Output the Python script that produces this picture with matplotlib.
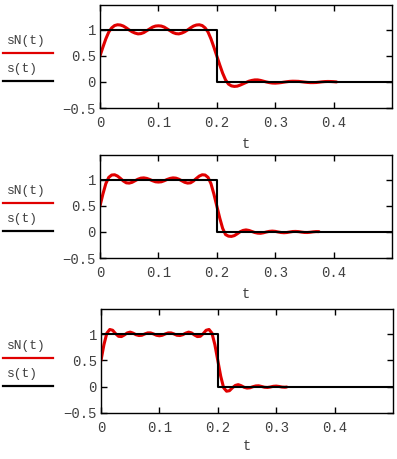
import numpy as np
import matplotlib
matplotlib.use("Agg")
import matplotlib.pyplot as plt
from matplotlib.lines import Line2D

# ---------------- data ----------------
# sampling grids (t) for the red partial-sum curves
t1 = [round(0.005 * i, 3) for i in range(82)]          # 0 .. 0.405
t2 = [round(0.005 * i, 3) for i in range(76)]          # 0 .. 0.375
t3 = [round(0.005 * i, 3) for i in range(64)] + [0.318]  # 0 .. 0.318

sN1 = [0.50, 0.67, 0.83, 0.96, 1.04, 1.085, 1.10, 1.095, 1.075, 1.04,
       1.00, 0.965, 0.94, 0.925, 0.93, 0.95, 0.985, 1.02, 1.055, 1.075,
       1.08, 1.075, 1.055, 1.02, 0.985, 0.95, 0.93, 0.925, 0.94, 0.965,
       1.00, 1.04, 1.075, 1.095, 1.10, 1.085, 1.04, 0.96, 0.83, 0.67,
       0.50, 0.33, 0.17, 0.04, -0.04, -0.075, -0.085, -0.08, -0.06, -0.035,
       -0.01, 0.015, 0.03, 0.04, 0.04, 0.03, 0.015, 0.0, -0.012, -0.02,
       -0.022, -0.018, -0.012, -0.003, 0.005, 0.012, 0.015, 0.014, 0.012, 0.005,
       -0.002, -0.008, -0.012, -0.012, -0.01, -0.004, 0.003, 0.008, 0.01, 0.009,
       0.006, 0.001]

sN2 = [0.50, 0.73, 0.93, 1.05, 1.095, 1.10, 1.075, 1.03, 0.98, 0.945,
       0.94, 0.955, 0.985, 1.015, 1.035, 1.04, 1.03, 1.01, 0.985, 0.965,
       0.96, 0.965, 0.985, 1.01, 1.03, 1.04, 1.035, 1.015, 0.985, 0.955,
       0.94, 0.945, 0.98, 1.03, 1.075, 1.10, 1.095, 1.05, 0.93, 0.73,
       0.50, 0.27, 0.07, -0.05, -0.08, -0.085, -0.07, -0.035, 0.005, 0.03,
       0.04, 0.03, 0.01, -0.01, -0.022, -0.025, -0.015, 0.0, 0.012, 0.017,
       0.012, 0.0, -0.01, -0.014, -0.01, 0.0, 0.009, 0.011, 0.007, -0.002,
       -0.009, -0.01, -0.005, 0.003, 0.008, 0.007]

sN3 = [0.50, 0.80, 1.02, 1.09, 1.075, 1.01, 0.96, 0.955, 0.985, 1.025,
       1.04, 1.02, 0.99, 0.975, 0.98, 1.005, 1.025, 1.025, 1.005, 0.98,
       0.97, 0.98, 1.005, 1.025, 1.025, 1.005, 0.98, 0.975, 0.99, 1.02,
       1.04, 1.025, 0.985, 0.955, 0.96, 1.01, 1.075, 1.09, 1.02, 0.80,
       0.50, 0.20, -0.02, -0.085, -0.075, -0.02, 0.025, 0.04, 0.02, -0.01,
       -0.025, -0.02, 0.0, 0.015, 0.018, 0.005, -0.01, -0.014, -0.005, 0.008,
       0.012, 0.005, -0.006, -0.009, -0.005]

# ideal rectangular pulse s(t)
t_s = [0.0, 0.2, 0.2, 0.5]
s_vals = [1.0, 1.0, 0.0, 0.0]

xticks = [0, 0.1, 0.2, 0.3, 0.4]
xtick_labels = ["0", "0.1", "0.2", "0.3", "0.4"]
yticks = [-0.5, 0, 0.5, 1]
ytick_labels = ["\u22120.5", "0", "0.5", "1"]

curves = [(t1, sN1), (t2, sN2), (t3, sN3)]

# ---------------- layout ----------------
W, H = 397, 459
fig = plt.figure(figsize=(W / 100, H / 100), dpi=100)
FONT = "Liberation Mono"
FS = 10
LFS = 9.3
TXT = "#404040"

# (left, right, top, bottom, xlabel row) in pixels
boxes = [(100, 392, 5, 108, 144), (100, 392, 155, 258, 294),
         (101, 393, 309, 413, 446)]


def fy(px):
    return 1 - px / H


for (tt, ss), (l, r, tp, b, xl) in zip(curves, boxes):
    ax = fig.add_axes([l / W, 1 - b / H, (r - l) / W, (b - tp) / H])
    ax.plot(tt, ss, color="#e00000", lw=2.2, solid_capstyle="round", zorder=2)
    ax.plot(t_s, s_vals, color="black", lw=1.5, zorder=3)
    ax.set_xlim(0, 0.5)
    ax.set_ylim(-0.5, 1.48)
    ax.set_xticks(xticks)
    ax.set_xticklabels(xtick_labels)
    ax.set_yticks(yticks)
    ax.set_yticklabels(ytick_labels)
    ax.tick_params(direction="in", length=4, width=1, top=True, right=True,
                   labelsize=FS, labelcolor=TXT)
    ax.tick_params(axis="x", pad=6)
    ax.tick_params(axis="y", pad=3)
    for lab in ax.get_xticklabels() + ax.get_yticklabels():
        lab.set_family(FONT)
    for sp in ax.spines.values():
        sp.set_linewidth(1.0)
        sp.set_color("black")
    fig.text((l + r) / 2 / W, fy(xl), "t", family=FONT, fontsize=FS,
             color=TXT, ha="center", va="center")

    # Mathcad-style legend at left
    zero_px = b - 26  # pixel row of y=0
    fig.text(7 / W, fy(zero_px - 41), "sN(t)", family=FONT, fontsize=LFS,
             color=TXT, va="center", ha="left")
    fig.add_artist(Line2D([3 / W, 53 / W], [fy(zero_px - 29.5)] * 2,
                          color="#e00000", lw=1.6, transform=fig.transFigure))
    fig.text(7 / W, fy(zero_px - 13), "s(t)", family=FONT, fontsize=LFS,
             color=TXT, va="center", ha="left")
    fig.add_artist(Line2D([3 / W, 53 / W], [fy(zero_px - 1.5)] * 2,
                          color="black", lw=1.6, transform=fig.transFigure))

fig.savefig("out.png", dpi=100)
